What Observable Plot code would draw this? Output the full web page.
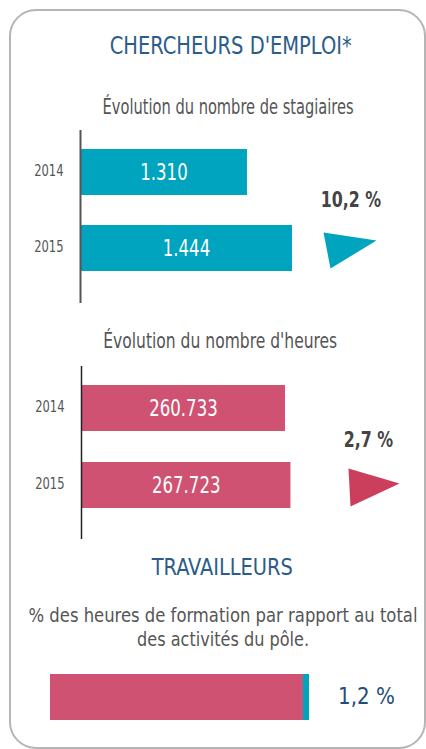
<!DOCTYPE html>
<html><head><meta charset="utf-8">
<script src="https://cdn.jsdelivr.net/npm/d3@7"></script>
<script src="https://cdn.jsdelivr.net/npm/@observablehq/plot@0.6"></script>
<style>
body{margin:0;background:#fff;}
#card{position:relative;width:426px;height:749px;overflow:hidden;font-family:"DejaVu Sans Condensed","DejaVu Sans",sans-serif;}
.frame{position:absolute;left:9px;top:9px;width:417px;height:740px;border:2px solid #b5b5b5;border-radius:27px;box-sizing:border-box;}
.t{position:absolute;width:800px;text-align:center;white-space:nowrap;}
.t span{display:inline-block;transform-origin:50% 50%;}
.blk{position:absolute;left:0;}
</style></head><body>
<div id="card"><div class="frame"></div></div>
<script>
// ---- data ----
const years = ["2014", "2015"];
const stagiaires = [1310, 1444];
const heures = [260733, 267723];
const evolStagiaires = 10.2;
const evolHeures = 2.7;
const travailleursPct = 1.2;

const titles = {
  h1: "CHERCHEURS D'EMPLOI*",
  s1: "Évolution du nombre de stagiaires",
  s2: "Évolution du nombre d'heures",
  h2: "TRAVAILLEURS",
  l1: "% des heures de formation par rapport au total",
  l2: "des activités du pôle."
};

const FONT = '"DejaVu Sans Condensed","DejaVu Sans",sans-serif';
const TEAL = "#00a4bf", PINK = "#d05272", PINK2 = "#cc3f5c", BLUE = "#2b5c8a", GREY = "#555";
const locale = d3.formatLocale({decimal: ",", thousands: ".", grouping: [3], currency: ["", "€"]});
const fmtInt = locale.format(",d");
const fmtPct = v => locale.format(".1f")(v) + " %";

const card = document.getElementById("card");
// text label, horizontally condensed to a target width
function label(text, cx, baseline, size, color, targetW, weight) {
  const d = document.createElement("div");
  d.className = "t";
  const s = document.createElement("span");
  s.textContent = text;
  d.appendChild(s);
  d.style.left = (cx - 400) + "px";
  d.style.fontSize = size + "px";
  d.style.lineHeight = (size * 1.2) + "px";
  d.style.top = (baseline - 0.946 * size) + "px";
  d.style.color = color;
  if (weight) d.style.fontWeight = weight;
  card.appendChild(d);
  const w = s.getBoundingClientRect().width;
  s.style.transform = `scaleX(${targetW / w})`;
}
function place(node, top) {
  const w = document.createElement("div");
  w.className = "blk";
  w.style.top = top + "px";
  w.appendChild(node);
  card.appendChild(w);
}
// condense every text of a rendered chart by a factor
function condense(svg, f) {
  svg.querySelectorAll("text").forEach(t => {
    const len = t.getComputedTextLength();
    if (len > 0) {
      t.setAttribute("textLength", len * f);
      t.setAttribute("lengthAdjust", "spacingAndGlyphs");
    }
  });
}
function tri(pts) {
  return {draw(ctx) { ctx.moveTo(pts[0][0], pts[0][1]); ctx.lineTo(pts[1][0], pts[1][1]); ctx.lineTo(pts[2][0], pts[2][1]); ctx.closePath(); }};
}

label(titles.h1, 231, 55, 25, BLUE, 242);
label(titles.s1, 228.5, 115, 21, GREY, 251);
label(titles.s2, 220, 349, 21, GREY, 234);
label(titles.h2, 222.5, 576, 23, BLUE, 141);
label(titles.l1, 222.5, 622, 20, GREY, 389);
label(titles.l2, 223, 646, 20, GREY, 172);

function barChart(values, domain, yRange, pad, color, axisColor, axisW, ml, pct, pctPos, triPts, triColor, triPos) {
  const rows = years.map((y, i) => ({year: y, value: values[i]}));
  const x0 = domain[0];
  return Plot.plot({
    width: 426, height: 173, marginLeft: ml, marginRight: 0, marginTop: 0, marginBottom: 0,
    style: {fontFamily: FONT, overflow: "visible", background: "transparent"},
    x: {domain, axis: null},
    y: {domain: years, range: yRange, paddingInner: pad, paddingOuter: 0, axis: null},
    marks: [
      Plot.barX(rows, {x1: x0, x2: "value", y: "year", fill: color}),
      Plot.ruleX([x0], {stroke: axisColor, strokeWidth: axisW}),
      Plot.axisY({tickSize: 0, tickPadding: 17, fontSize: 16, color: GREY, label: null, dy: -2}),
      Plot.text(rows, {x: d => (x0 + d.value) / 2, y: "year", text: d => fmtInt(d.value), fill: "white", fontSize: 23}),
      Plot.text([pct], {frameAnchor: "top-left", dx: pctPos[0], dy: pctPos[1], textAnchor: "middle", lineAnchor: "middle", text: d => fmtPct(d), fill: "#444", fontSize: 22, fontWeight: "bold"}),
      Plot.dot([pct], {frameAnchor: "top-left", dx: triPos[0], dy: triPos[1], symbol: tri(triPts), r: 20, fill: triColor, stroke: "none"})
    ]
  });
}

const c1 = barChart(stagiaires, [813, 1843], [19, 141], 0.395, TEAL, "#555", 2, 80,
  evolStagiaires, [270.5, 69], [[-22, -15], [31, -7], [-15, 21]], TEAL, [265, 117]);
place(c1, 130);
condense(c1, 0.8);

const c2 = barChart(heures, [0, 441000], [19, 142], 0.4026, PINK, "#222", 1.5, 81,
  evolHeures, [287, 73.5], [[-18, -18], [33, -3], [-16, 20]], PINK2, [285, 120]);
place(c2, 366);
condense(c2, 0.8);

// bottom stacked bar
const rest = 100 - travailleursPct;
const bottom = Plot.plot({
  width: 426, height: 46, marginLeft: 50, marginRight: 117, marginTop: 0, marginBottom: 0,
  style: {fontFamily: FONT, overflow: "visible", background: "transparent"},
  x: {domain: [0, 100], axis: null},
  marks: [
    Plot.barX([rest], {x1: 0, x2: d => d, fill: PINK}),
    Plot.barX([travailleursPct], {x1: rest, x2: 100, fill: TEAL, insetLeft: -3}),
    Plot.text([travailleursPct], {frameAnchor: "right", dx: 57, dy: -1, textAnchor: "middle", text: d => fmtPct(d), fill: "#1f4e79", fontSize: 23})
  ]
});
place(bottom, 674);
condense(bottom, 0.96);
</script>
</body></html>
